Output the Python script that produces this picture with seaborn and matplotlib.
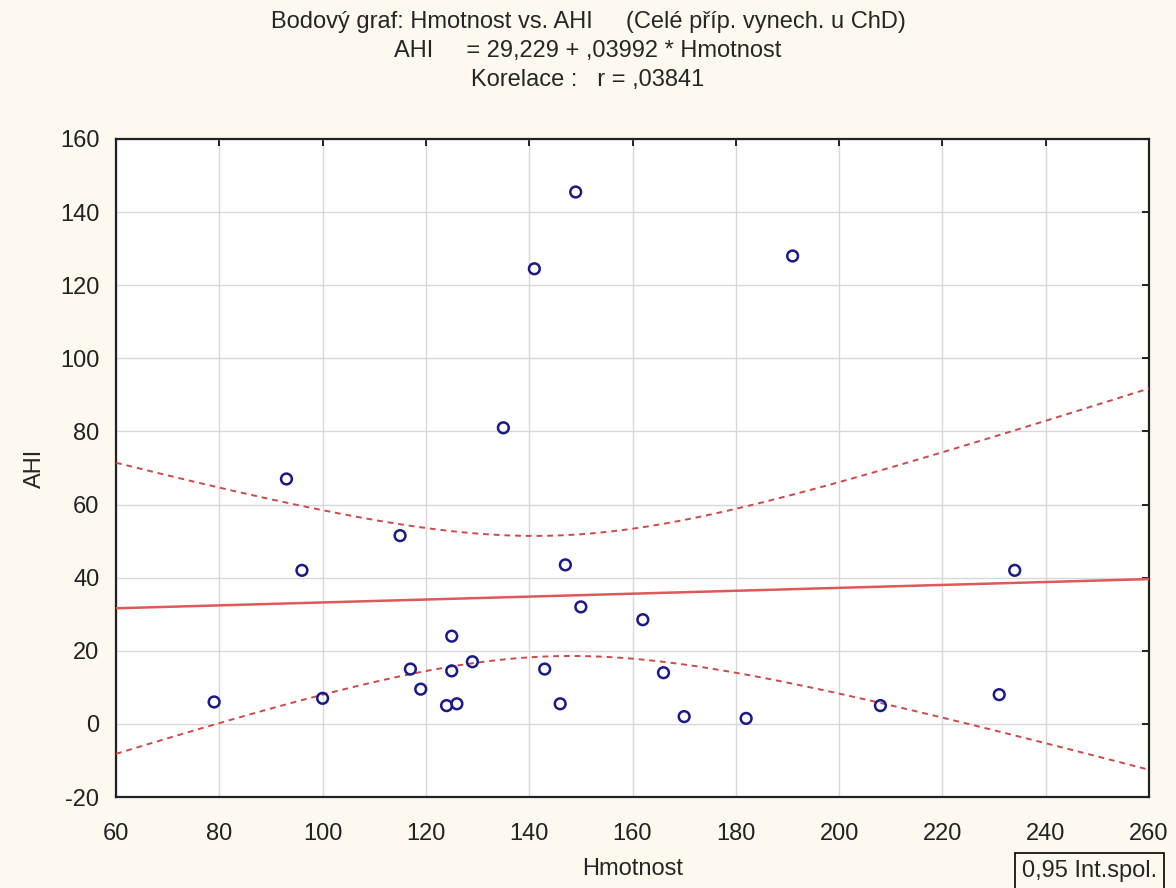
import numpy as np
import pandas as pd
import matplotlib
matplotlib.use("Agg")
import matplotlib.pyplot as plt
import seaborn as sns

# Data
hmotnost = [79, 93, 96, 100, 115, 117, 119, 124, 125, 125, 126, 129, 135, 141,
            143, 146, 147, 149, 150, 162, 166, 170, 182, 191, 208, 231, 234]
ahi = [6, 67, 42, 7, 51.5, 15, 9.5, 5, 14.5, 24, 5.5, 17, 81, 124.5,
       15, 5.5, 43.5, 145.5, 32, 28.5, 14, 2, 1.5, 128, 5, 8, 42]
intercept = 29.229
slope = 0.03992
xticks = [60, 80, 100, 120, 140, 160, 180, 200, 220, 240, 260]
yticks = [-20, 0, 20, 40, 60, 80, 100, 120, 140, 160]

title_lines = ["Bodový graf: Hmotnost vs. AHI     (Celé příp. vynech. u ChD)",
               "AHI     = 29,229 + ,03992 * Hmotnost",
               "Korelace :   r = ,03841"]

sns.set_style("white")
plt.rcParams['font.family'] = ['Liberation Sans', 'DejaVu Sans']
plt.rcParams['axes.unicode_minus'] = False

bg = "#FDF9EE"
fs = 17
fig = plt.figure(figsize=(11.76, 8.88), dpi=100, facecolor=bg)
ax = fig.add_axes([116/1176, 1-797/888, (1149-116)/1176, (797-139)/888])
ax.set_facecolor("white")

df = pd.DataFrame({"Hmotnost": hmotnost, "AHI": ahi})

# regression line and 95% confidence band
x = np.array(hmotnost, float)
y = np.array(ahi, float)
n = len(x)
xs = np.linspace(60, 260, 201)
yhat = intercept + slope * xs
res = y - (intercept + slope * x)
s = np.sqrt(np.sum(res**2) / (n - 2))
sxx = np.sum((x - x.mean())**2)
tval = 2.0595
half = tval * s * np.sqrt(1/n + (xs - x.mean())**2 / sxx)
lines = pd.DataFrame({"x": xs, "fit": yhat, "lo": yhat - half, "hi": yhat + half})

sns.lineplot(data=lines, x="x", y="fit", ax=ax, color="#E05858", linewidth=1.8, zorder=3)
sns.lineplot(data=lines, x="x", y="lo", ax=ax, color="#D04848", linewidth=1.4,
             linestyle=(0, (3, 2.5)), zorder=3)
sns.lineplot(data=lines, x="x", y="hi", ax=ax, color="#D04848", linewidth=1.4,
             linestyle=(0, (3, 2.5)), zorder=3)

sns.scatterplot(data=df, x="Hmotnost", y="AHI", ax=ax, marker="o", s=60,
                facecolor="none", edgecolor="#1A1A8A", linewidth=1.8, zorder=4)

ax.set_xlim(60, 260)
ax.set_ylim(-20, 160)
ax.set_xticks(xticks)
ax.set_yticks(yticks)
ax.grid(True, color="#D8D8D8", linewidth=1.0)
ax.set_axisbelow(True)
for sp in ax.spines.values():
    sp.set_color("#222222")
    sp.set_linewidth(1.6)
    sp.set_visible(True)
ax.tick_params(direction="in", length=5, width=1.4, top=True, right=True,
               labelsize=fs, colors="#222222")
ax.tick_params(axis="y", pad=12)
ax.tick_params(axis="x", pad=19)
ax.set_xlabel("Hmotnost", fontsize=fs, labelpad=9)
ax.set_ylabel("AHI", fontsize=fs, labelpad=10)

for i, t in enumerate(title_lines):
    fig.text(0.5, 1 - (22 + 29 * i) / 888, t, ha="center", va="center", fontsize=fs)

fig.text(1022/1176, 1 - 871/888, "0,95 Int.spol.", ha="left", va="center", fontsize=fs,
         bbox=dict(boxstyle="square,pad=0.3", facecolor=bg, edgecolor="black", linewidth=1.2))

fig.savefig("out.png", dpi=100, facecolor=bg)
